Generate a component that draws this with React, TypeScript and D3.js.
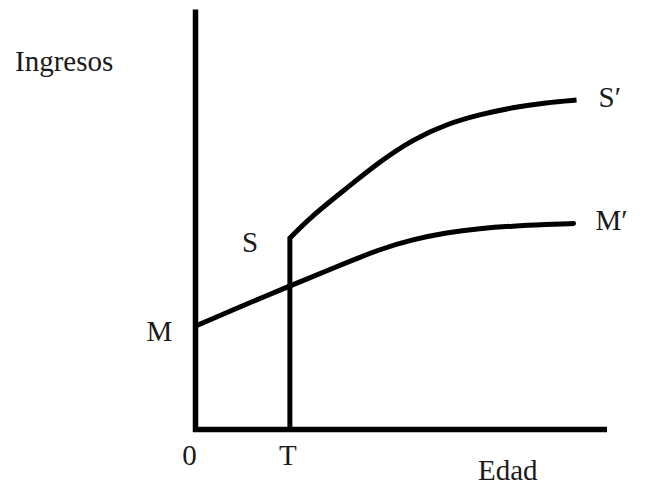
import React from "react";
import * as d3 from "d3";

// Abstract units: age (x) and income (y)
const T_AGE = 9.45;
const mCurveX = [0.25, 4.75, 9.45, 13.95, 18.45, 21.75, 25.15, 28.45, 31.75, 35.15, 37.85];
const mCurveY = [10.45, 12.4, 14.35, 16.2, 18.05, 19.0, 19.7, 20.1, 20.35, 20.5, 20.6];
const sCurveX = [9.45, 11.75, 15.15, 18.45, 21.75, 25.15, 28.45, 31.75, 35.15, 38.15];
const sCurveY = [19.15, 21.45, 24.15, 26.8, 29.0, 30.55, 31.5, 32.2, 32.7, 32.95];
const xTickValues = [0, T_AGE];
const xTickLabels = ["0", "T"];
const yAxisLabel = "Ingresos";
const xAxisLabel = "Edad";

const W = 655;
const H = 485;
const FONT = "'Liberation Serif', 'Times New Roman', serif";

export default function App() {
  const x = d3.scaleLinear().domain([0, 41.2]).range([195.5, 607]);
  const y = d3.scaleLinear().domain([0, 42]).range([429.5, 9.5]);

  const mPts: [number, number][] = mCurveX.map((v, i) => [v, mCurveY[i]]);
  const sPts: [number, number][] = sCurveX.map((v, i) => [v, sCurveY[i]]);

  const curve = d3
    .line<[number, number]>()
    .x((d) => x(d[0]))
    .y((d) => y(d[1]))
    .curve(d3.curveBasis);

  const mPath = curve(mPts) || "";
  const sCurvePath = (curve(sPts) || "").replace(/^M/, "L");
  const sPath = `M${x(T_AGE)},${y(0)}` + sCurvePath;

  const textStyle: React.CSSProperties = { fontFamily: FONT, fontSize: 29, fill: "#1a1a1a" };

  return (
    <svg
      width={W}
      height={H}
      style={{ position: "absolute", left: 0, top: 0, display: "block", background: "#fff" }}
    >
      {/* axes */}
      <line x1={x(0)} x2={x(0)} y1={y(42)} y2={y(0) + 2.5} stroke="#000" strokeWidth={5.5} />
      <line x1={x(0) - 2.5} x2={x(41.2)} y1={y(0)} y2={y(0)} stroke="#000" strokeWidth={5.5} />

      {/* curves */}
      <path d={mPath} fill="none" stroke="#000" strokeWidth={5} strokeLinecap="round" />
      <path d={sPath} fill="none" stroke="#000" strokeWidth={5} strokeLinejoin="miter" />

      {/* tick labels */}
      {xTickValues.map((v, i) => (
        <text
          key={i}
          x={i === 0 ? x(v) - 6 : x(v) - 2}
          y={465}
          textAnchor="middle"
          style={textStyle}
        >
          {xTickLabels[i]}
        </text>
      ))}

      {/* labels */}
      <text x={15} y={71} style={textStyle}>{yAxisLabel}</text>
      <text x={478} y={480} style={textStyle}>{xAxisLabel}</text>
      <text x={x(0) - 49} y={341} style={textStyle}>M</text>
      <text x={242} y={252} style={textStyle}>S</text>
      <text x={x(38.15) + 22} y={107} style={textStyle}>S′</text>
      <text x={x(37.85) + 22} y={230} style={textStyle}>M′</text>
    </svg>
  );
}
